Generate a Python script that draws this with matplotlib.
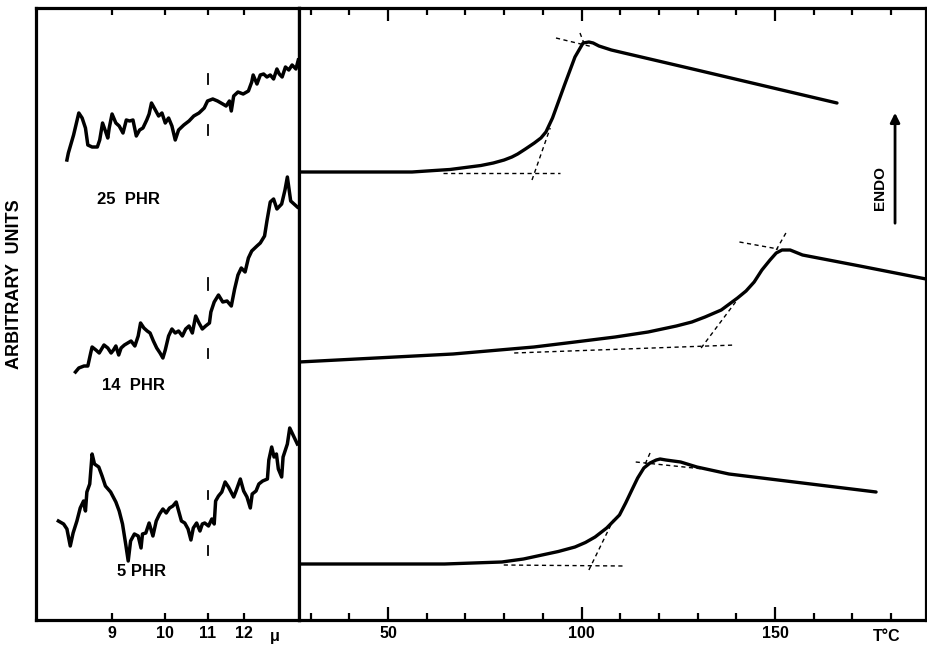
import matplotlib
matplotlib.use("Agg")
import matplotlib.pyplot as plt
from matplotlib.ticker import FixedLocator, MultipleLocator

plt.rcParams['font.family'] = ['Liberation Sans', 'DejaVu Sans']
plt.rcParams['font.weight'] = 'bold'

# ---- left panel: IR traces, x in wavenumber (cm-1), labelled in microns ----
wl_ticks = [9, 10, 11, 12]

ir25_x = [1206, 1203, 1192, 1181, 1174, 1167, 1162, 1153, 1142, 1137, 1131, 1125, 1120, 1117,
          1111, 1103, 1096, 1088, 1081, 1074, 1067, 1060, 1053, 1046, 1038, 1033, 1028, 1021,
          1013, 1006, 999, 992, 985, 978, 971, 960, 949, 939, 928, 917, 910, 899, 889, 878,
          871, 864, 860, 855, 846, 835, 824, 817, 814, 806, 799, 792, 785, 778, 771, 764,
          759, 753, 746, 739, 732, 724, 719]
ir25_y = [46.0, 46.7, 48.5, 50.7, 50.2, 49.2, 47.5, 47.3, 47.3, 48.0, 49.7, 48.9, 48.2, 49.2,
          50.6, 49.7, 49.4, 48.7, 50.0, 49.9, 50.0, 48.4, 49.0, 49.2, 50.0, 50.6, 51.7, 51.1,
          50.4, 50.7, 49.7, 50.2, 49.4, 48.0, 49.0, 49.5, 49.9, 50.4, 50.7, 51.2, 51.9, 52.1,
          51.9, 51.6, 51.4, 51.9, 50.9, 52.4, 52.8, 52.6, 52.9, 53.8, 54.5, 53.6, 54.5, 54.6,
          54.3, 54.5, 54.1, 55.1, 54.6, 54.3, 55.3, 55.0, 55.5, 55.1, 56.0]

ir14_x = [1188, 1181, 1170, 1162, 1156, 1153, 1145, 1138, 1128, 1120, 1113, 1108, 1103, 1097,
          1092, 1085, 1078, 1071, 1063, 1056, 1051, 1044, 1037, 1031, 1024, 1017, 1010, 1004,
          999, 992, 985, 978, 971, 963, 956, 949, 942, 935, 928, 921, 914, 906, 903, 896,
          887, 878, 869, 860, 853, 846, 839, 831, 824, 817, 806, 799, 790, 785, 778, 771,
          764, 754, 747, 742, 735, 728, 721]
ir14_y = [24.8, 25.2, 25.4, 25.4, 26.7, 27.3, 27.0, 26.7, 27.5, 27.2, 26.7, 27.0, 27.4, 26.5,
          27.2, 27.5, 27.7, 27.9, 27.4, 28.4, 29.7, 29.2, 28.9, 28.7, 27.9, 27.2, 26.7, 26.2,
          27.0, 28.4, 29.1, 28.7, 28.9, 28.4, 29.1, 29.4, 28.7, 30.4, 29.7, 29.1, 29.4, 29.7,
          30.8, 31.8, 32.5, 31.8, 31.9, 31.4, 33.1, 34.5, 35.2, 34.8, 36.2, 36.9, 37.4, 37.7,
          38.4, 39.9, 41.8, 42.1, 41.1, 41.6, 43.0, 44.3, 41.9, 41.6, 41.3]

ir5_x = [1224, 1213, 1206, 1199, 1193, 1185, 1178, 1171, 1167, 1164, 1158, 1153, 1148, 1139,
         1132, 1125, 1114, 1103, 1096, 1089, 1082, 1077, 1072, 1064, 1056, 1050, 1047, 1040,
         1033, 1025, 1018, 1011, 1004, 997, 990, 983, 976, 972, 965, 958, 951, 945, 940,
         933, 926, 921, 916, 908, 901, 896, 893, 887, 880, 873, 866, 855, 850, 841, 834,
         827, 820, 816, 808, 802, 794, 784, 781, 775, 770, 765, 761, 754, 751, 742, 737,
         728, 721]
ir5_y = [9.9, 9.6, 9.1, 7.4, 8.7, 9.9, 11.2, 11.9, 10.9, 12.8, 13.6, 16.6, 15.6, 15.3,
         14.4, 13.4, 12.8, 11.8, 10.9, 9.6, 7.5, 5.9, 7.9, 8.6, 8.4, 7.2, 8.6, 8.7,
         9.7, 8.4, 9.9, 10.6, 11.1, 10.7, 11.2, 11.4, 11.8, 11.1, 9.9, 9.7, 9.1, 8.0, 9.2,
         9.7, 8.9, 9.6, 9.7, 9.4, 10.1, 9.6, 11.9, 12.4, 12.8, 13.8, 13.3, 12.3, 12.9, 14.1, 12.9,
         12.3, 11.2, 12.6, 12.9, 13.6, 13.9, 14.1, 16.0, 17.3, 16.3, 16.6, 15.1, 14.3, 16.3, 17.6, 19.2,
         18.3, 17.6]

# short reference marks at 11 microns (pairs of y ranges per trace)
marks_11 = [(54.6, 53.6), (49.5, 48.5), (34.2, 33.0), (27.1, 26.2), (12.9, 12.1), (7.4, 6.5)]

# ---- right panel: DSC curves ----
dsc25_t = [27.0, 45, 56.2, 62, 66, 70, 74, 77.2, 80, 82, 83.5, 85.5, 87.8, 89.5, 90.8, 92.5,
           95.6, 98.3, 100.4, 101.9, 103.0, 104.5, 107.7, 111.0, 129.8, 166.0]
dsc25_y = [44.8, 44.8, 44.8, 44.95, 45.05, 45.25, 45.45, 45.7, 46.0, 46.3, 46.6, 47.1, 47.7,
           48.2, 48.8, 50.2, 53.5, 56.3, 57.7, 57.8, 57.7, 57.4, 57.0, 56.7, 55.0, 51.7]

dsc14_t = [27.0, 66.8, 87.7, 98.3, 108.7, 117.2, 124.5, 128.5, 131.9, 136.1, 140.3, 142.5,
           144.6, 146.6, 148.7, 150.3, 151.8, 153.9, 157.1, 171.9, 189.0]
dsc14_y = [25.8, 26.6, 27.3, 27.8, 28.3, 28.8, 29.4, 29.8, 30.3, 31.0, 32.2, 32.9,
           33.8, 35.0, 36.0, 36.7, 37.0, 37.0, 36.5, 35.4, 34.1]

dsc5_t = [27.0, 64.6, 79.4, 85, 89.8, 94, 98.3, 101, 103.5, 106.5, 109.8, 111.4, 113.0, 114.5,
          116.1, 117.7, 119.3, 120.3, 121.8, 125.6, 129.8, 138.1, 176.1]
dsc5_y = [5.6, 5.6, 5.8, 6.1, 6.5, 6.85, 7.3, 7.75, 8.3, 9.2, 10.5, 11.7, 13.0, 14.2,
          15.2, 15.7, 16.0, 16.1, 16.0, 15.8, 15.3, 14.6, 12.8]

# construction (tangent) lines: (t0, y0, t1, y1)
dashes = [
    (64.2, 44.7, 94.4, 44.7), (87.2, 44.0, 91.9, 49.2), (93.4, 58.2, 103.0, 57.3), (99.6, 58.7, 100.9, 57.4),
    (82.6, 26.7, 139.8, 27.5), (130.9, 27.2, 139.8, 31.8), (140.8, 37.8, 150.8, 37.1), (152.8, 38.7, 150.3, 37.0),
    (79.9, 5.5, 110.9, 5.4), (101.9, 5.0, 108.2, 10.0), (114.0, 15.8, 134.0, 15.0), (117.7, 16.7, 116.1, 15.3),
]

fig = plt.figure(figsize=(9.28, 6.45), dpi=100)
ax1 = fig.add_axes([36 / 928, 25 / 645, 263 / 928, 612 / 645])
ax2 = fig.add_axes([299 / 928, 25 / 645, 627 / 928, 612 / 645])

for ax in (ax1, ax2):
    ax.set_ylim(0, 61.2)
    ax.set_yticks([])
    for s in ax.spines.values():
        s.set_linewidth(2.3)
    ax.tick_params(axis='x', which='both', direction='in', top=True, bottom=True,
                   width=1.6, labelsize=11.5, pad=4)

# left panel
ax1.set_xlim(1271.1, 717.5)
for xs, ys in [(ir25_x, ir25_y), (ir14_x, ir14_y), (ir5_x, ir5_y)]:
    ax1.plot(xs, ys, color='black', lw=2.5, solid_joinstyle='round')
for y0, y1 in marks_11:
    ax1.plot([1e4 / 11, 1e4 / 11], [y0, y1], color='black', lw=1.3)
ax1.xaxis.set_major_locator(FixedLocator([1e4 / w for w in wl_ticks]))
ax1.set_xticklabels([str(w) for w in wl_ticks])
ax1.tick_params(axis='x', length=5)
ax1.text(1e4 / 13, -0.9, 'μ', ha='center', va='top', fontsize=11.5)
ax1.text(1077, 42.0, '25  PHR', ha='center', va='center', fontsize=12)
ax1.text(1067, 23.4, '14  PHR', ha='center', va='center', fontsize=12)
ax1.text(1050, 4.9, '5 PHR', ha='center', va='center', fontsize=12)
fig.text(15 / 928, 1 - 284 / 645, 'ARBITRARY  UNITS', rotation=90, ha='center', va='center',
         fontsize=13, fontweight='bold')

# right panel
ax2.set_xlim(27.0, 189.0)
for ts, ys in [(dsc25_t, dsc25_y), (dsc14_t, dsc14_y), (dsc5_t, dsc5_y)]:
    ax2.plot(ts, ys, color='black', lw=2.4, solid_joinstyle='round', solid_capstyle='round')
for t0, y0, t1, y1 in dashes:
    ax2.plot([t0, t1], [y0, y1], color='black', lw=1.0, linestyle=(0, (3, 2.5)))
ax2.xaxis.set_major_locator(FixedLocator([50, 100, 150]))
ax2.xaxis.set_minor_locator(MultipleLocator(10))
ax2.tick_params(axis='x', which='major', length=9.5)
ax2.tick_params(axis='x', which='minor', length=5, width=1.6)
ax2.text(178.9, -0.9, 'T°C', ha='center', va='top', fontsize=11.5)
ax2.annotate('', xy=(181.0, 51.0), xytext=(181.0, 39.4),
             arrowprops=dict(arrowstyle='-|>', color='black', lw=2.0, mutation_scale=14))
ax2.text(177.2, 43.2, 'ENDO', rotation=90, ha='center', va='center', fontsize=11)

fig.savefig('out.png', dpi=100)
